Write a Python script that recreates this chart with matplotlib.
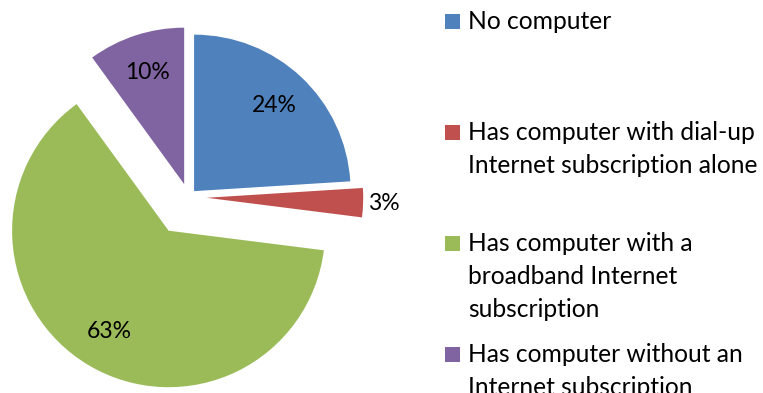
import numpy as np
import matplotlib.pyplot as plt
from matplotlib.patches import Rectangle

plt.rcParams['font.family'] = ['Lato', 'DejaVu Sans']

# household computer / internet status, percent of households
categories = ['No computer',
              'Has computer with dial-up\nInternet subscription alone',
              'Has computer with a\nbroadband Internet\nsubscription',
              'Has computer without an\nInternet subscription']
shares = [24, 3, 63, 10]
colors = ['#4F81BD', '#C0504D', '#9BBB59', '#8064A2']

W, H = 763, 393
RADIUS = 156.5
CENTER = (188.4, H - 197.2)
EXPLODE = [8.3, 18.3, 38.9, 13.7]  # offsets in pixels

fig = plt.figure(figsize=(W / 100, H / 100), dpi=100)
ax = fig.add_axes([0, 0, 1, 1])

wedges, _, pcts = ax.pie(shares, colors=colors, explode=EXPLODE,
                         center=CENTER, radius=RADIUS, startangle=90,
                         counterclock=False, autopct=lambda p: f"{p:.0f}%",
                         pctdistance=0.75,
                         wedgeprops=dict(linewidth=0),
                         textprops=dict(fontsize=16.5, color='black'))

# the thin dial-up slice gets its label outside the wedge
w = wedges[1]
mid = np.deg2rad(0.5 * (w.theta1 + w.theta2))
cx, cy = w.center
pcts[1].set_position((cx + 1.13 * RADIUS * np.cos(mid),
                      cy + 1.13 * RADIUS * np.sin(mid)))

ax.set_xlim(0, W)
ax.set_ylim(0, H)
ax.set_aspect('auto')
ax.axis('off')

# legend column, entries evenly spaced, one text per wrapped line
for i, (label, color) in enumerate(zip(categories, colors)):
    top = 14 + i * 111
    ax.add_patch(Rectangle((445, H - top - 15), 15, 15, color=color,
                           linewidth=0))
    for k, line in enumerate(label.split('\n')):
        ax.text(468, H - top - 15 - k * 33, line, fontsize=17.7,
                va='baseline', ha='left', color='black')

fig.savefig('out.png', dpi=100)
